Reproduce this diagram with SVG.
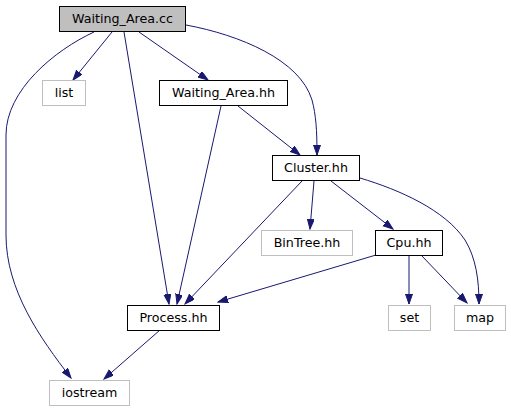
<svg xmlns="http://www.w3.org/2000/svg" width="511" height="411" viewBox="0 0 511 411">
<style>
.n rect{fill:#fff;stroke:#000;stroke-width:1}
.n.ext rect{stroke:#bfbfbf}
.n.root rect{fill:#bfbfbf}
.n text{font-family:"DejaVu Sans",sans-serif;font-size:12.67px;text-anchor:middle;fill:#000}
.e path{fill:none;stroke:#191970;stroke-width:1;marker-end:url(#ah)}
</style>
<defs>
<marker id="ah" markerUnits="userSpaceOnUse" markerWidth="11" markerHeight="8" refX="10" refY="3.5" orient="auto">
<path d="M0,0 L10,3.5 L0,7 z" fill="#191970" stroke="#191970" stroke-width="1"/>
</marker>
</defs>
<rect width="511" height="411" fill="#fff"/>
<g id="edges" class="e">
<path d="M112,32 L73,80"/>
<path d="M139,32 L208,80"/>
<path d="M124,32 L169,304"/>
<path d="M94,32 C55,50 6,90 6,135 L6,235 C6,290 40,338 71,378"/>
<path d="M186,25 C240,35 300,60 312,100 C316,115 317,130 317,155"/>
<path d="M238,106 L300,155"/>
<path d="M221,106 L177,304"/>
<path d="M302,181 L185,304"/>
<path d="M314,181 L310,229"/>
<path d="M331,181 L393,229"/>
<path d="M360,178 C400,190 445,210 465,240 C476,258 479,280 479,304"/>
<path d="M376,255 L218,302"/>
<path d="M409,255 L409,304"/>
<path d="M421,255 L467,303"/>
<path d="M160,330 L104,379"/>
</g>
<g id="node_cc" class="n root"><rect x="59.5" y="6.5" width="126" height="25"/><text x="122.5" y="22.5">Waiting_Area.cc</text></g>
<g id="node_list" class="n ext"><rect x="42.5" y="80.5" width="43" height="25"/><text x="64" y="96.5">list</text></g>
<g id="node_wahh" class="n"><rect x="159.5" y="80.5" width="128" height="25"/><text x="223.5" y="96.5">Waiting_Area.hh</text></g>
<g id="node_cluster" class="n"><rect x="272.5" y="155.5" width="87" height="25"/><text x="316" y="171.5">Cluster.hh</text></g>
<g id="node_bintree" class="n ext"><rect x="261.5" y="230.5" width="91" height="25"/><text x="307" y="246.5">BinTree.hh</text></g>
<g id="node_cpu" class="n"><rect x="375.5" y="230.5" width="67" height="25"/><text x="409" y="246.5">Cpu.hh</text></g>
<g id="node_process" class="n"><rect x="127.5" y="305.5" width="92" height="25"/><text x="173.5" y="321.5">Process.hh</text></g>
<g id="node_set" class="n ext"><rect x="388.5" y="305.5" width="42" height="25"/><text x="409.5" y="321.5">set</text></g>
<g id="node_map" class="n ext"><rect x="454.5" y="305.5" width="51" height="25"/><text x="480" y="321.5">map</text></g>
<g id="node_iostream" class="n ext"><rect x="49.5" y="380.5" width="80" height="25"/><text x="89.5" y="396.5">iostream</text></g>
</svg>
